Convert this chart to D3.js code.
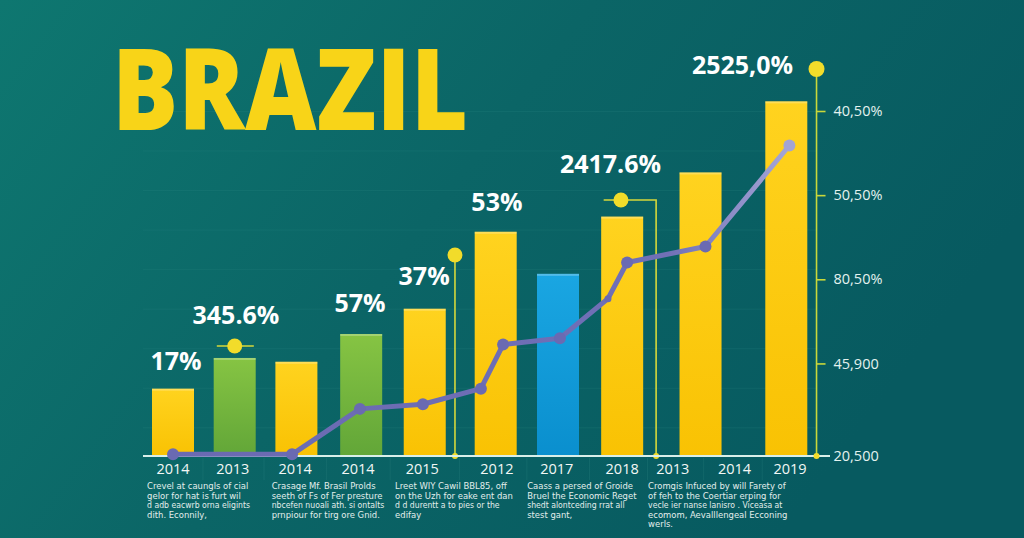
<!DOCTYPE html>
<html>
<head>
<meta charset="utf-8">
<script src="https://cdn.jsdelivr.net/npm/d3@7"></script>
<style>
  html, body { margin: 0; padding: 0; background: #0b6666; }
  svg { display: block; }
</style>
</head>
<body>
<svg id="chart"></svg>
<script>
const [WIDTH, HEIGHT] = [1024, 538];

// x labels under the axis, and where they sit (in slot units)
const xLabels = ["2014", "2013", "2014", "2014", "2015", "2012", "2017", "2018", "2013", "2014", "2019"];
const xLabelSlots = [0, 0.97, 1.98, 3, 4.04, 5.25, 6.22, 7.28, 8.1, 9.1, 10];

// bars
const barSlots = [0, 1, 2, 3.05, 4.08, 5.23, 6.24, 7.28, 8.55, 9.94];
const barValues = [16, 23.3, 22.4, 29, 35, 53.3, 43.3, 56.9, 67.4, 84.3];
const barKinds = ["y", "g", "y", "g", "y", "y", "b", "y", "y", "y"];

// line series
const lineSlots = [0, 1.93, 3.03, 4.05, 4.99, 5.35, 6.27, 7.05, 7.36, 8.63, 9.99];
const lineValues = [0.4, 0.4, 11.2, 12.3, 16, 26.5, 28, 37.4, 46, 49.8, 73.8];

// value call-outs
const calloutText = ["17%", "345.6%", "57%", "37%", "53%", "2417.6%", "2525,0%"];
const calloutSlots = [0.05, 1.02, 3.03, 4.07, 5.25, 7.09, 9.23];
const calloutValues = [20.5, 31.3, 34.3, 40.7, 58.2, 67.2, 90.9];

// right axis
const rightTickValues = [0, 22, 42, 62, 82];
const rightTickLabels = ["20,500", "45,900", "80,50%", "50,50%", "40,50%"];

// captions under the labels
const captions = [
  ["Crevel at caungls of cial", "gelor for hat is furt wil", "d adb eacwrb orna eligints", "dith. Econnily,"],
  ["Crasage Mf. Brasil Prolds", "seeth of Fs of Fer presture", "nbcefen nuoali ath. si ontalts", "prnpiour for tirg ore Gnid."],
  ["Lreet WIY Cawil BBL85, off", "on the Uzh for eake ent dan", "d d durentt a to pies or the", "edifay"],
  ["Caass a persed of Groide", "Bruel the Economic Reget", "shedt alontceding rrat all", "stest gant,"],
  ["Cromgis Infuced by will Farety of", "of feh to the Coertiar erping for", "vecle ier nanse lanisro . Viceasa at", "ecomom, Aevalllengeal Ecconing", "werls."]
];
const captionSlots = [-0.42, 1.6, 3.6, 5.74, 7.7];

const BASE_Y = 456;
const x = d3.scaleLinear().domain([0, 10]).range([173, 790]);
const y = d3.scaleLinear().domain([0, 82]).range([BASE_Y, 111]);

const svg = d3.select("#chart")
  .attr("width", WIDTH)
  .attr("height", HEIGHT)
  .attr("viewBox", `0 0 ${WIDTH} ${HEIGHT}`);

const defs = svg.append("defs");

const bg = defs.append("linearGradient").attr("id", "bg")
  .attr("x1", 0).attr("y1", 0).attr("x2", 1).attr("y2", 0.4);
bg.append("stop").attr("offset", 0).attr("stop-color", "#0e7770");
bg.append("stop").attr("offset", 0.5).attr("stop-color", "#0b6566");
bg.append("stop").attr("offset", 1).attr("stop-color", "#075a60");

const barFills = { y: ["#ffd31f", "#f9c203"], g: ["#86c443", "#62a638"], b: ["#1aa6e2", "#0a8fce"] };
Object.entries(barFills).forEach(([k, [c0, c1]]) => {
  const g = defs.append("linearGradient").attr("id", `bar-${k}`)
    .attr("x1", 0).attr("y1", 0).attr("x2", 0).attr("y2", 1);
  g.append("stop").attr("offset", 0).attr("stop-color", c0);
  g.append("stop").attr("offset", 1).attr("stop-color", c1);
});

const lineGrad = defs.append("linearGradient").attr("id", "line-grad")
  .attr("gradientUnits", "userSpaceOnUse")
  .attr("x1", x(0)).attr("x2", x(10)).attr("y1", 0).attr("y2", 0);
lineGrad.append("stop").attr("offset", 0).attr("stop-color", "#6a6ab2");
lineGrad.append("stop").attr("offset", 0.8).attr("stop-color", "#7070b6");
lineGrad.append("stop").attr("offset", 1).attr("stop-color", "#a5a6d6");

svg.append("rect").attr("width", WIDTH).attr("height", HEIGHT).attr("fill", "url(#bg)");

// faint grid
svg.append("g")
  .selectAll("line")
  .data(d3.range(6.7, 84, 9.4))
  .enter()
  .append("line")
  .attr("x1", 143).attr("x2", 817)
  .attr("y1", (d) => y(d)).attr("y2", (d) => y(d))
  .attr("stroke", "#2f8a86").attr("stroke-opacity", 0.22).attr("stroke-width", 1);

// faint dividers in the label strip
svg.append("g")
  .selectAll("line")
  .data(xLabelSlots.slice(0, -1).map((s, i) => (s + xLabelSlots[i + 1]) / 2))
  .enter()
  .append("line")
  .attr("x1", (d) => x(d)).attr("x2", (d) => x(d))
  .attr("y1", BASE_Y + 2).attr("y2", 480)
  .attr("stroke", "#3c918c").attr("stroke-opacity", 0.2);

// title
svg.append("text")
  .attr("x", 112).attr("y", 130)
  .attr("textLength", 356).attr("lengthAdjust", "spacingAndGlyphs")
  .attr("font-family", "'Open Sans', 'DejaVu Sans', sans-serif")
  .attr("font-weight", 800)
  .attr("font-size", 114)
  .attr("fill", "#f8d418")
  .text("BRAZIL");

// bars
const BAR_W = 42;
svg.append("g")
  .selectAll("rect")
  .data(barValues.map((v, i) => ({ v, s: barSlots[i], k: barKinds[i] })))
  .enter()
  .append("rect")
  .attr("x", (d) => x(d.s) - BAR_W / 2)
  .attr("y", (d) => y(d.v))
  .attr("width", BAR_W)
  .attr("height", (d) => y(0) - y(d.v))
  .attr("fill", (d) => `url(#bar-${d.k})`);

// thin highlight on bar tops
svg.append("g")
  .selectAll("rect")
  .data(barValues.map((v, i) => ({ v, s: barSlots[i] })))
  .enter()
  .append("rect")
  .attr("x", (d) => x(d.s) - BAR_W / 2)
  .attr("y", (d) => y(d.v))
  .attr("width", BAR_W).attr("height", 2)
  .attr("fill", "#ffffff").attr("opacity", 0.25);

// yellow markers / leader lines
const markerColor = "#f2dc2a";
const mk = svg.append("g").attr("stroke", "#d6d83a").attr("stroke-width", 1.6).attr("fill", "none");
// marker over bar 2
mk.append("line").attr("x1", x(0.71)).attr("x2", x(1.31)).attr("y1", 346).attr("y2", 346);
svg.append("circle").attr("cx", x(1)).attr("cy", 346).attr("r", 7.5).attr("fill", markerColor);
// marker beside bar 5
mk.append("line").attr("x1", x(4.57)).attr("x2", x(4.57)).attr("y1", 255).attr("y2", BASE_Y);
svg.append("circle").attr("cx", x(4.57)).attr("cy", 255).attr("r", 7.5).attr("fill", markerColor);
svg.append("circle").attr("cx", x(4.57)).attr("cy", BASE_Y).attr("r", 3).attr("fill", markerColor);
// marker over bar 8
mk.append("polyline").attr("points", `${x(6.98)},200 ${x(7.83)},200 ${x(7.83)},${BASE_Y}`);
svg.append("circle").attr("cx", x(7.26)).attr("cy", 200).attr("r", 7.5).attr("fill", markerColor);
svg.append("circle").attr("cx", x(7.83)).attr("cy", BASE_Y).attr("r", 3).attr("fill", markerColor);

// base axis line
svg.append("line")
  .attr("x1", 143).attr("x2", 830)
  .attr("y1", BASE_Y).attr("y2", BASE_Y)
  .attr("stroke", "#d9efe9").attr("stroke-width", 2.2);

// right axis
const axisX = x(10.43);
const rightAxis = d3.axisRight(y)
  .tickValues(rightTickValues)
  .tickFormat((d, i) => rightTickLabels[i])
  .tickSize(9)
  .tickPadding(8);
const ra = svg.append("g").attr("transform", `translate(${axisX},0)`).call(rightAxis);
ra.select(".domain").remove();
ra.selectAll(".tick line").attr("stroke", "#c9d83a").attr("stroke-width", 1.6);
ra.selectAll(".tick").filter((d) => d === 0).select("line").remove();
ra.selectAll(".tick text")
  .attr("x", 17)
  .attr("fill", "#e4f2ef")
  .attr("font-family", "'Open Sans', sans-serif")
  .attr("font-size", 14.5);
svg.append("line")
  .attr("x1", axisX).attr("x2", axisX).attr("y1", 70).attr("y2", BASE_Y)
  .attr("stroke", "#c9d83a").attr("stroke-width", 1.6);
svg.append("circle").attr("cx", axisX).attr("cy", 69).attr("r", 8).attr("fill", markerColor);
svg.append("circle").attr("cx", axisX).attr("cy", BASE_Y).attr("r", 3).attr("fill", markerColor);

// line series
const pts = lineValues.map((v, i) => ({ v, s: lineSlots[i] }));
svg.append("path")
  .datum(pts)
  .attr("d", d3.line().x((d) => x(d.s)).y((d) => y(d.v)))
  .attr("fill", "none")
  .attr("stroke", "url(#line-grad)")
  .attr("stroke-width", 5)
  .attr("stroke-linejoin", "round")
  .attr("stroke-linecap", "round");
svg.append("g")
  .selectAll("circle")
  .data(pts)
  .enter()
  .append("circle")
  .attr("cx", (d) => x(d.s))
  .attr("cy", (d) => y(d.v))
  .attr("r", (d, i) => (i === 7 ? 3.5 : 6))
  .attr("fill", (d, i) => (i === pts.length - 1 ? "#a3a4d4" : "#6a6ab2"));

// value call-outs
svg.append("g")
  .selectAll("text")
  .data(calloutText.map((t, i) => ({ t, s: calloutSlots[i], v: calloutValues[i] })))
  .enter()
  .append("text")
  .attr("x", (d) => x(d.s))
  .attr("y", (d) => y(d.v))
  .attr("text-anchor", "middle")
  .attr("font-family", "'Open Sans', sans-serif")
  .attr("font-weight", 700)
  .attr("font-size", 25)
  .attr("fill", "#ffffff")
  .text((d) => d.t);

// x labels
svg.append("g")
  .selectAll("text")
  .data(xLabels.map((t, i) => ({ t, s: xLabelSlots[i] })))
  .enter()
  .append("text")
  .attr("x", (d) => x(d.s))
  .attr("y", 474)
  .attr("text-anchor", "middle")
  .attr("font-family", "'Open Sans', sans-serif")
  .attr("font-size", 14.5)
  .attr("fill", "#f2f7f5")
  .text((d) => d.t);

// captions, one text per line
captions.forEach((lines, ci) => {
  svg.append("g")
    .selectAll("text")
    .data(lines)
    .enter()
    .append("text")
    .attr("x", x(captionSlots[ci]))
    .attr("y", (d, li) => 489 + li * 9.6)
    .attr("font-family", "'DejaVu Sans Condensed', 'Liberation Sans Narrow', 'Open Sans', sans-serif")
    .attr("font-stretch", "condensed")
    .attr("font-size", (d, li) => (li === 2 ? 8.6 : 9.4))
    .attr("fill", "#e3eeec")
    .text((d) => d);
});
</script>
</body>
</html>
